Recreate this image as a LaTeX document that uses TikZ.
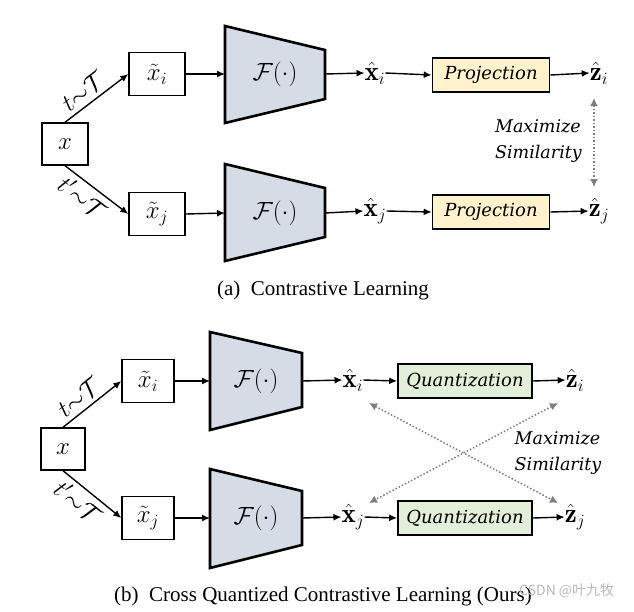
\documentclass[tikz,border=0pt]{standalone}
\usepackage{amsmath,amssymb}
\usepackage{fontspec}
\newfontfamily\capfont{Liberation Serif}
\newfontfamily\labfont{DejaVu Serif}
\newfontfamily\cjkfont{Noto Sans CJK SC}
\usetikzlibrary{arrows.meta}
\definecolor{encfill}{HTML}{D6DCE5}
\definecolor{projfill}{HTML}{FFF2CC}
\definecolor{quantfill}{HTML}{E2F0D9}
\definecolor{simgray}{HTML}{7F7F7F}
\begin{document}
\begin{tikzpicture}[x=1pt,y=-1pt,
  mathfont/.style={font=\fontsize{23}{26}\selectfont},
  inbox/.style={draw, line width=1.4pt, inner sep=0pt, mathfont},
  txt/.style={inner sep=0pt, mathfont},
  hattxt/.style={inner sep=0pt, font=\fontsize{27}{30}\selectfont},
  enc/.style={draw, line width=2.6pt, fill=encfill, line join=miter},
  projbox/.style={draw, line width=1.6pt, fill=projfill, inner sep=0pt, minimum width=117pt, minimum height=34pt, font=\labfont\itshape\fontsize{18}{21}\selectfont},
  quantbox/.style={draw, line width=1.6pt, fill=quantfill, inner sep=0pt, minimum width=134pt, minimum height=34pt, font=\labfont\itshape\fontsize{18}{21}\selectfont},
  flow/.style={line width=1.4pt, -{Latex[length=8pt,width=7pt]}},
  sim/.style={line width=1.5pt, simgray, dotted, {Latex[length=8pt,width=8pt]}-{Latex[length=8pt,width=8pt]}},
  simtext/.style={align=left, inner sep=0pt, font=\labfont\itshape\fontsize{17.5}{26}\selectfont},
  lab/.style={inner sep=4.5pt, font=\fontsize{23}{26}\selectfont},
  captext/.style={inner sep=0pt, font=\capfont\fontsize{21}{24}\selectfont},
]
\useasboundingbox (0,0) rectangle (634,611);

% ================= (a) =================
\node[inbox, minimum width=46pt, minimum height=42pt] (ax) at (65,144) {$x$};
\node[inbox, minimum width=56pt, minimum height=43pt] (axi) at (157,74) {$\tilde{x}_i$};
\node[inbox, minimum width=56pt, minimum height=43pt] (axj) at (157,214) {$\tilde{x}_j$};

\draw[enc] (225,26) -- (325,50) -- (325,99) -- (225,123) -- cycle;
\node[txt] (aFi) at (275,74) {$\mathcal{F}(\cdot)$};
\coordinate (aFil) at (225,74);
\coordinate (aFir) at (325,74);
\draw[enc] (225,164) -- (325,188) -- (325,237) -- (225,261) -- cycle;
\node[txt] (aFj) at (275,213) {$\mathcal{F}(\cdot)$};
\coordinate (aFjl) at (225,213);
\coordinate (aFjr) at (325,213);

\node[hattxt] (ahxi) at (375,73) {$\hat{\mathbf{x}}_i$};
\node[hattxt] (ahxj) at (375,211) {$\hat{\mathbf{x}}_j$};
\node[projbox] (aPi) at (491,75) {Projection};
\node[projbox] (aPj) at (491,212) {Projection};
\node[hattxt] (azi) at (599,73) {$\hat{\mathbf{z}}_i$};
\node[hattxt] (azj) at (599,211) {$\hat{\mathbf{z}}_j$};

\draw[flow] (ax.north) -- node[lab, sloped, above, pos=0.42] {$t{\sim}\mathcal{T}$} (axi.west);
\draw[flow] (ax.south) -- node[lab, sloped, below, pos=0.42] {$t'{\sim}\mathcal{T}$} (axj.west);
\draw[flow] (axi.east) -- (aFil);
\draw[flow] (axj.east) -- (aFjl);
\draw[flow] (aFir) -- (ahxi.west);
\draw[flow] (aFjr) -- (ahxj.west);
\draw[flow] (ahxi.east) -- (aPi.west);
\draw[flow] (ahxj.east) -- (aPj.west);
\draw[flow] (aPi.east) -- (azi.west);
\draw[flow] (aPj.east) -- (azj.west);

\coordinate (asimT) at (594,98);
\coordinate (asimB) at (594,187);
\draw[sim] (asimT) -- (asimB);
\node[simtext, anchor=east] (asimtxt) at (582,141) {Maximize\\Similarity};

\node[captext] (capa) at (323,290) {(a)\ \ Contrastive Learning};

% ================= (b) =================
\node[inbox, minimum width=44pt, minimum height=42pt] (bx) at (63,449) {$x$};
\node[inbox, minimum width=52pt, minimum height=43pt] (bxi) at (148,381) {$\tilde{x}_i$};
\node[inbox, minimum width=52pt, minimum height=43pt] (bxj) at (148,518) {$\tilde{x}_j$};

\draw[enc] (210,332) -- (302,353) -- (302,407) -- (210,430) -- cycle;
\node[txt] (bFi) at (256,381) {$\mathcal{F}(\cdot)$};
\coordinate (bFil) at (210,381);
\coordinate (bFir) at (302,381);
\draw[enc] (210,469) -- (302,491) -- (302,545) -- (210,568) -- cycle;
\node[txt] (bFj) at (256,518) {$\mathcal{F}(\cdot)$};
\coordinate (bFjl) at (210,518);
\coordinate (bFjr) at (302,518);

\node[hattxt] (bhxi) at (353,380) {$\hat{\mathbf{x}}_i$};
\node[hattxt] (bhxj) at (353,517) {$\hat{\mathbf{x}}_j$};
\node[quantbox] (bQi) at (465,381) {Quantization};
\node[quantbox] (bQj) at (465,518) {Quantization};
\node[hattxt] (bzi) at (575,380) {$\hat{\mathbf{z}}_i$};
\node[hattxt] (bzj) at (575,517) {$\hat{\mathbf{z}}_j$};

\draw[flow] (bx.north) -- node[lab, sloped, above, pos=0.42] {$t{\sim}\mathcal{T}$} (bxi.west);
\draw[flow] (bx.south) -- node[lab, sloped, below, pos=0.42] {$t'{\sim}\mathcal{T}$} (bxj.west);
\draw[flow] (bxi.east) -- (bFil);
\draw[flow] (bxj.east) -- (bFjl);
\draw[flow] (bFir) -- (bhxi.west);
\draw[flow] (bFjr) -- (bhxj.west);
\draw[flow] (bhxi.east) -- (bQi.west);
\draw[flow] (bhxj.east) -- (bQj.west);
\draw[flow] (bQi.east) -- (bzi.west);
\draw[flow] (bQj.east) -- (bzj.west);

\coordinate (bsimXi) at (369,403);
\coordinate (bsimZi) at (558,403);
\coordinate (bsimXj) at (369,503);
\coordinate (bsimZj) at (558,503);
\draw[sim] (bsimXi) -- (bsimZj);
\draw[sim] (bsimZi) -- (bsimXj);
\node[simtext, anchor=center] (bsimtxt) at (558,453) {Maximize\\Similarity};

\node[captext] (capb) at (323,596) {(b)\ \ Cross Quantized Contrastive Learning (Ours)};
\node[inner sep=0pt, text=gray!55, font=\cjkfont\fontsize{14}{16}\selectfont, anchor=west] (wm) at (519,591) {CSDN @叶九牧};
\end{tikzpicture}
\end{document}
